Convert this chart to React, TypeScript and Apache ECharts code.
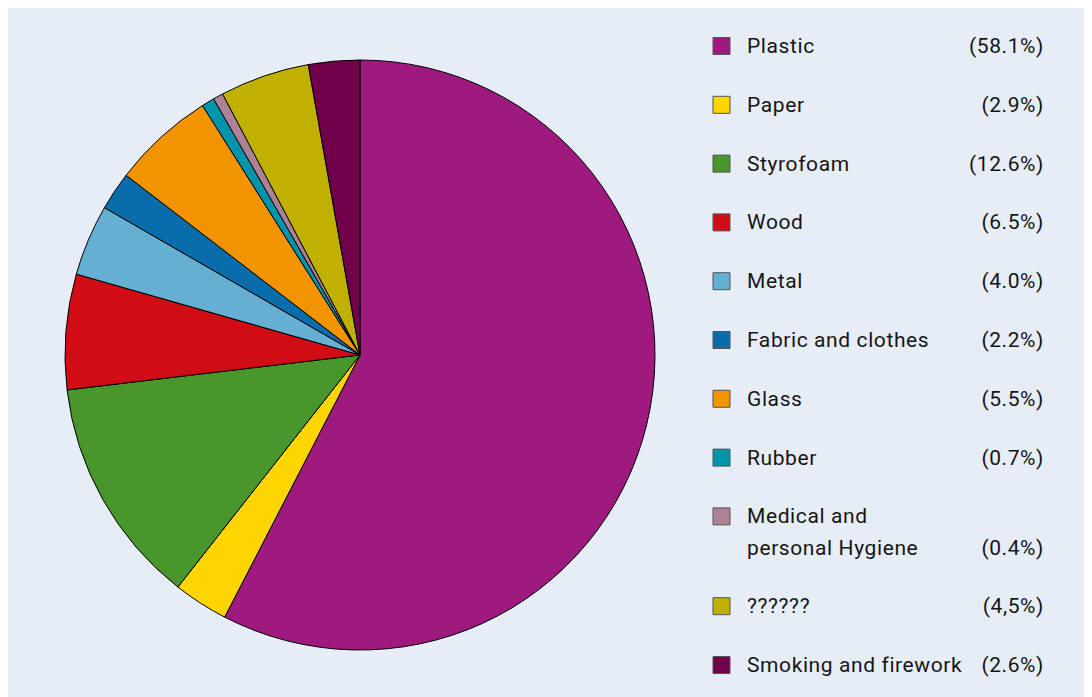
import React, { useEffect, useRef } from "react";
import * as echarts from "echarts";

const categories = [
  "Plastic",
  "Paper",
  "Styrofoam",
  "Wood",
  "Metal",
  "Fabric and clothes",
  "Glass",
  "Rubber",
  "Medical and\npersonal Hygiene",
  "??????",
  "Smoking and firework",
];
// slice sizes as drawn in the picture (measured angles)
const values = [57.5, 3.0, 12.5, 6.3, 3.9, 2.1, 5.6, 0.7, 0.55, 4.9, 2.8];
const percentLabels = [
  "(58.1%)",
  "(2.9%)",
  "(12.6%)",
  "(6.5%)",
  "(4.0%)",
  "(2.2%)",
  "(5.5%)",
  "(0.7%)",
  "(0.4%)",
  "(4,5%)",
  "(2.6%)",
];
const colors = [
  "#9e1a7e",
  "#ffd500",
  "#48962c",
  "#d00d14",
  "#65b0d2",
  "#0a6dab",
  "#f29400",
  "#0095ab",
  "#ae8296",
  "#c0b000",
  "#70004a",
];

const FONT = "Roboto";

export default function App() {
  const ref = useRef<HTMLDivElement>(null);
  useEffect(() => {
    if (!ref.current) return;
    const chart = echarts.init(ref.current, undefined, { renderer: "svg" });

    const graphics: any[] = [];
    const rowGap = 58.8;
    const lineH = 32;
    let y = 38;
    categories.forEach((name, i) => {
      const lines = name.split("\n");
      graphics.push({
        type: "rect",
        shape: { x: 705, y: y - 8.5, width: 17, height: 17 },
        style: { fill: colors[i], stroke: "#555", lineWidth: 1 },
      });
      lines.forEach((ln, k) => {
        graphics.push({
          type: "text",
          x: 739,
          y: y + k * lineH,
          style: {
            text: ln,
            font: `21px ${FONT}`,
            fill: "#151515",
            verticalAlign: "middle",
          },
        });
      });
      graphics.push({
        type: "text",
        x: 1036,
        y: y + (lines.length - 1) * lineH,
        style: {
          text: percentLabels[i],
          font: `21px ${FONT}`,
          fill: "#151515",
          align: "right",
          verticalAlign: "middle",
        },
      });
      y += rowGap + (lines.length - 1) * (lineH - 1);
    });

    chart.setOption({
      animation: false,
      backgroundColor: "#e6edf7",
      color: colors,
      series: [
        {
          type: "pie",
          center: [352, 347],
          radius: 295,
          startAngle: 90,
          clockwise: true,
          label: { show: false },
          labelLine: { show: false },
          silent: true,
          itemStyle: { borderColor: "#000", borderWidth: 1 },
          data: categories.map((c, i) => ({ name: c, value: values[i] })),
        },
      ],
      graphic: graphics,
    });
    return () => chart.dispose();
  }, []);
  return (
    <div
      ref={ref}
      style={{ width: 1084, height: 689, letterSpacing: "0.6px" }}
    />
  );
}
